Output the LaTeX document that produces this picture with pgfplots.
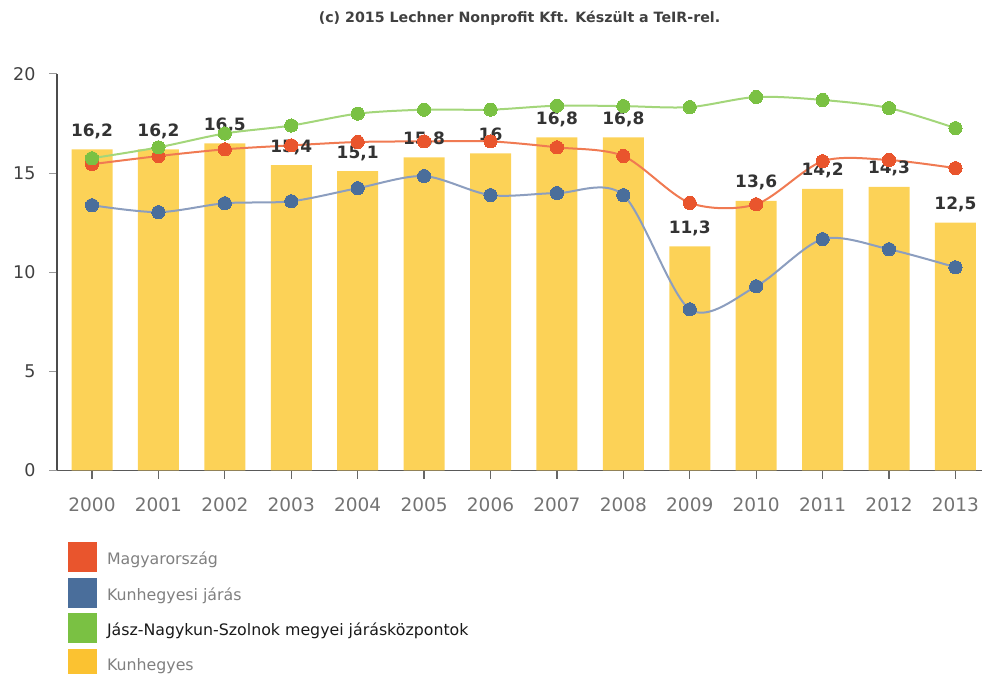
\documentclass[border=0pt]{standalone}
\usepackage{pgfplots}
\pgfplotsset{compat=1.18}
\usepackage{pgfplotstable}
\usepackage{fontspec}
\setmainfont{DejaVu Sans}
\definecolor{markRed}{HTML}{E9552D}
\definecolor{lineRed}{HTML}{F07A52}
\definecolor{markBlue}{HTML}{4A6E9B}
\definecolor{lineBlue}{HTML}{8C9EBF}
\definecolor{markGreen}{HTML}{7AC143}
\definecolor{lineGreen}{HTML}{A3D67A}
\definecolor{barY}{HTML}{FCD257}
\definecolor{legY}{HTML}{FBC231}
\definecolor{labC}{HTML}{333333}

\pgfplotstableread{
x y label
0 16.2 16,2
1 16.2 16,2
2 16.5 16,5
3 15.4 15,4
4 15.1 15,1
5 15.8 15,8
6 16.0 16
7 16.8 16,8
8 16.8 16,8
9 11.3 11,3
10 13.6 13,6
11 14.2 14,2
12 14.3 14,3
13 12.5 12,5
}\bars

\pgfplotstableread{
x red blue green
0 15.45 13.38 15.75
1 15.86 13.03 16.30
2 16.20 13.48 17.00
3 16.40 13.58 17.40
4 16.57 14.24 18.00
5 16.60 14.85 18.20
6 16.60 13.89 18.20
7 16.30 13.99 18.40
8 15.86 13.89 18.38
9 13.50 8.13 18.33
10 13.43 9.29 18.84
11 15.60 11.67 18.69
12 15.66 11.16 18.28
13 15.25 10.25 17.27
}\lines

\begin{document}
\begin{tikzpicture}[x=1pt,y=1pt]
\useasboundingbox (0,0) rectangle (982,674);
\begin{axis}[
  at={(57pt,203.5pt)}, anchor=south west,
  scale only axis, width=925pt, height=396.5pt,
  xmin=-0.527, xmax=13.40, ymin=0, ymax=20,
  axis x line*=bottom, axis y line*=left,
  axis line style={-},
  x axis line style={color=black!65, line width=1.5pt},
  y axis line style={color=black!70, line width=1.2pt},
  xtick={0,...,13},
  xticklabels={2000,2001,2002,2003,2004,2005,2006,2007,2008,2009,2010,2011,2012,2013},
  ytick={0,5,10,15,20}, yticklabels={0,5,10,15,20},
  tick align=outside, major tick length=8pt,
  xtick style={color=black!60, line width=1.2pt},
  ytick style={color=black!40, line width=1pt},
  xticklabel style={font=\fontsize{18.5}{18.5}\selectfont, text=black!55, yshift=-16pt},
  yticklabel style={font=\fontsize{17.5}{17.5}\selectfont, text=black!75, xshift=-10pt},
  title={(c) 2015 Lechner Nonprofit Kft. Készült a TeIR-rel.},
  title style={at={(0.5,1)}, anchor=center, yshift=50pt, font=\bfseries\fontsize{14.2}{14.2}\selectfont, text=black!75},
  legend image code/.code={\fill[#1] (0pt,-10pt) rectangle (29pt,20pt);},
  legend style={at={(0.0119,-0.1803)}, anchor=north west, draw=none, fill=none,
    inner sep=0pt, outer sep=0pt, row sep=5.5pt, column sep=10pt,
    nodes={inner sep=0pt}, font=\fontsize{15.8}{15.8}\selectfont, text=black!50},
  legend cell align=left,
]
\addlegendimage{fill=markRed, draw=none}
\addlegendentry{\raisebox{6pt}{Magyarország}}
\addlegendimage{fill=markBlue, draw=none}
\addlegendentry{\raisebox{6pt}{Kunhegyesi járás}}
\addlegendimage{fill=markGreen, draw=none}
\addlegendentry{\raisebox{6pt}{\textcolor{black!90}{Jász-Nagykun-Szolnok megyei járásközpontok}}}
\addlegendimage{fill=legY, draw=none}
\addlegendentry{\raisebox{6pt}{Kunhegyes}}

\addplot[ybar, bar width=41pt, fill=barY, draw=none, forget plot,
  point meta=explicit symbolic, nodes near coords,
  nodes near coords style={anchor=base, inner sep=0pt, yshift=13pt,
    font=\bfseries\fontsize{17}{17}\selectfont, text=labC}]
  table[x=x, y=y, meta=label]{\bars};

\addplot[smooth, tension=0.5, color=lineRed, line width=2pt, forget plot,
  mark=*, mark size=6.6pt, mark options={fill=markRed, draw=markRed, line width=0pt}]
  table[x=x, y=red]{\lines};
\addplot[smooth, tension=0.5, color=lineBlue, line width=2pt, forget plot,
  mark=*, mark size=6.6pt, mark options={fill=markBlue, draw=markBlue, line width=0pt}]
  table[x=x, y=blue]{\lines};
\addplot[smooth, tension=0.5, color=lineGreen, line width=2pt, forget plot,
  mark=*, mark size=6.6pt, mark options={fill=markGreen, draw=markGreen, line width=0pt}]
  table[x=x, y=green]{\lines};
\end{axis}
\end{tikzpicture}
\end{document}
